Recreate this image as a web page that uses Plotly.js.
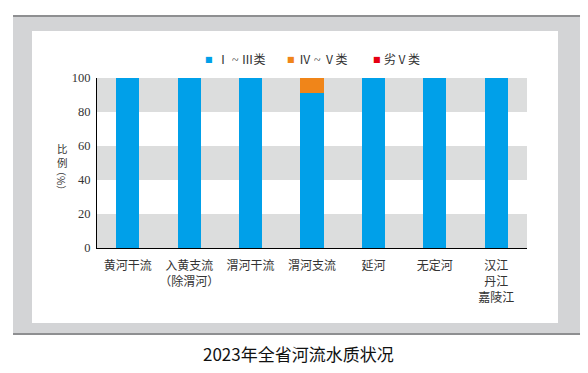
<!DOCTYPE html>
<html><head><meta charset="utf-8">
<script src="https://cdn.plot.ly/plotly-3.0.1.min.js"></script>
<style>html,body{margin:0;padding:0;background:#fff}#c{width:588px;height:373px}</style>
</head><body><div id="c"></div>
<script>
const categories = ["黄河干流", "入黄支流<br>（除渭河）", "渭河干流", "渭河支流", "延河", "无定河", "汉江<br>丹江<br>嘉陵江"];
const grade1to3 = [100, 100, 100, 91.2, 100, 100, 100];
const grade4to5 = [0, 0, 0, 8.8, 0, 0, 0];
const gradeWorse5 = [0, 0, 0, 0, 0, 0, 0];
const seriesNames = ["Ⅰ ~ Ⅲ类", "Ⅳ ~ Ⅴ类", "劣Ⅴ类"];
const seriesColors = ["#00a0e9", "#f08519", "#e60012"];
const yTicks = [0, 20, 40, 60, 80, 100];
const chartTitle = "2023年全省河流水质状况";

const cjk = '"Noto Sans CJK SC", sans-serif';
const serifMix = '"Liberation Serif", "Noto Sans CJK SC", serif';
const series = [grade1to3, grade4to5, gradeWorse5];
const traces = series.map((vals, i) => ({type: 'bar', x: categories, y: vals, name: seriesNames[i],
  marker: {color: seriesColors[i], line: {width: 0}}, showlegend: false, hoverinfo: 'none'}));

const shapes = [
  {type: 'rect', xref: 'paper', yref: 'paper', x0: -0.1953, x1: 1.1233, y0: -0.5059, y1: 1.3647,
   fillcolor: '#d3d4d6', line: {width: 0}, layer: 'below'},
  {type: 'line', xref: 'paper', yref: 'paper', x0: -0.1953, x1: 1.1233, y0: 1.3647, y1: 1.3647,
   line: {color: '#8e8f91', width: 2}, layer: 'below'},
  {type: 'line', xref: 'paper', yref: 'paper', x0: -0.1953, x1: 1.1233, y0: -0.5059, y1: -0.5059,
   line: {color: '#8e8f91', width: 2}, layer: 'below'},
  {type: 'rect', xref: 'paper', yref: 'paper', x0: -0.1512, x1: 1.0721, y0: -0.4412, y1: 1.2765,
   fillcolor: '#ffffff', line: {width: 0}, layer: 'below'}
];
for (let k = 0; k + 1 < yTicks.length; k += 2) {
  shapes.push({type: 'rect', xref: 'paper', yref: 'y', x0: 0, x1: 1, y0: yTicks[k], y1: yTicks[k + 1],
    fillcolor: '#dcdddd', line: {width: 0}, layer: 'below'});
}

// manual legend (square glyph + label)
const legendSquareX = [208.5, 290.5, 376.5];
const legendTextX = [215, 297, 382];
const px2x = p => (p - 97) / 430;
const legendY = (248 - 60) / 170;
const annotations = [];
seriesNames.forEach((nm, i) => {
  annotations.push({text: '■', xref: 'paper', yref: 'paper', x: px2x(legendSquareX[i]), y: legendY,
    showarrow: false, xanchor: 'center', yanchor: 'middle', font: {family: '"DejaVu Sans", sans-serif', size: 8, color: seriesColors[i]}});
  annotations.push({text: nm, xref: 'paper', yref: 'paper', x: px2x(legendTextX[i]), y: legendY,
    showarrow: false, xanchor: 'left', yanchor: 'middle', font: {family: serifMix, size: 12, color: '#333333'}});
});
annotations.push(
  {text: '比<br>例', xref: 'paper', yref: 'paper', x: px2x(62), y: (248 - 155) / 170, showarrow: false,
   font: {family: cjk, size: 10.5, color: '#333333'}, xanchor: 'center', yanchor: 'middle'},
  {text: '（%）', xref: 'paper', yref: 'paper', x: px2x(62), y: (248 - 180) / 170, showarrow: false, textangle: 90,
   font: {family: cjk, size: 10, color: '#333333'}, xanchor: 'center', yanchor: 'middle'},
  {text: chartTitle, xref: 'paper', yref: 'paper', x: px2x(298), y: (248 - 353) / 170, showarrow: false,
   font: {family: cjk, size: 17, color: '#111111'}, xanchor: 'center', yanchor: 'middle'}
);

const layout = {
  width: 588, height: 373,
  margin: {l: 97, r: 61, t: 78, b: 125, pad: 0},
  paper_bgcolor: '#ffffff', plot_bgcolor: 'rgba(0,0,0,0)',
  barmode: 'stack', bargap: 0.625,
  font: {family: cjk, size: 12, color: '#333333'},
  showlegend: false,
  xaxis: {type: 'category', showgrid: false, zeroline: false, showline: true, linecolor: '#000', linewidth: 1,
    ticks: '', ticklabelstandoff: 7, tickfont: {family: cjk, size: 12, color: '#333333'}, fixedrange: true, automargin: false},
  yaxis: {range: [0, 100], tickvals: yTicks, showgrid: false, zeroline: false, showline: true, linecolor: '#000',
    linewidth: 1, ticks: '', ticklabelstandoff: 3, tickfont: {family: '"Liberation Serif", serif', size: 12.5, color: '#333333'},
    fixedrange: true, automargin: false},
  shapes: shapes,
  annotations: annotations
};
Plotly.newPlot('c', traces, layout, {displayModeBar: false, staticPlot: true});
</script></body></html>
